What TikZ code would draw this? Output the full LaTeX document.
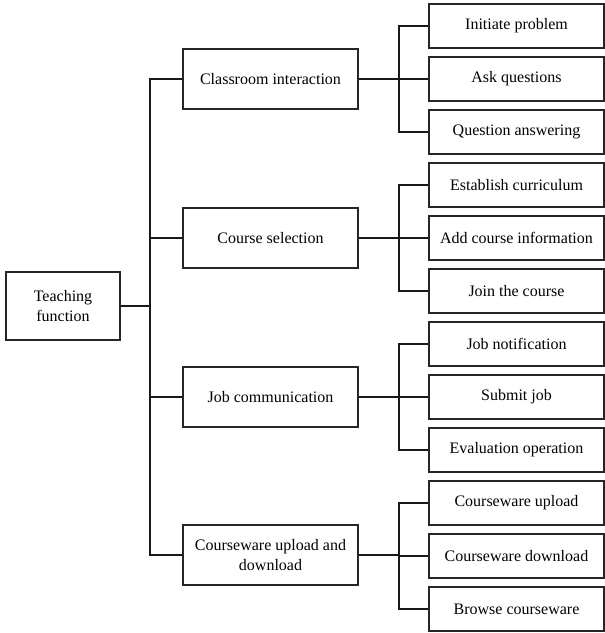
\documentclass[tikz,border=0pt]{standalone}
\usepackage{fontspec}
\setmainfont{Liberation Serif}
\begin{document}
\begin{tikzpicture}[x=1pt,y=1pt,
  every node/.style={font=\fontsize{16}{19.5}\selectfont},
  box/.style={draw=black!85,line width=1.2pt,rectangle,inner sep=0pt,align=center},
  rootbox/.style={box,minimum width=114pt,minimum height=68pt},
  midbox/.style={box,minimum width=175pt,minimum height=60pt},
  leafbox/.style={box,minimum width=175pt,minimum height=44pt},
  link/.style={draw=black!90,line width=1.2pt}]
\useasboundingbox (0,0) rectangle (605,-633);

% root
\node[rootbox] (root) at (63,-306) {Teaching\\function};

% second level
\node[midbox] (m1) at (270.5,-79) {Classroom interaction};
\node[midbox] (m2) at (270.5,-238) {Course selection};
\node[midbox] (m3) at (270.5,-397) {Job communication};
\node[midbox] (m4) at (270.5,-555) {Courseware upload and\\download};

% leaves
\node[leafbox] (l1)  at (516.5,-26)  {Initiate problem};
\node[leafbox] (l2)  at (516.5,-79)  {Ask questions};
\node[leafbox] (l3)  at (516.5,-132) {Question answering};
\node[leafbox] (l4)  at (516.5,-185) {Establish curriculum};
\node[leafbox] (l5)  at (516.5,-238) {Add course information};
\node[leafbox] (l6)  at (516.5,-291) {Join the course};
\node[leafbox] (l7)  at (516.5,-344) {Job notification};
\node[leafbox] (l8)  at (516.5,-397) {Submit job};
\node[leafbox] (l9)  at (516.5,-450) {Evaluation operation};
\node[leafbox] (l10) at (516.5,-503) {Courseware upload};
\node[leafbox] (l11) at (516.5,-556) {Courseware download};
\node[leafbox] (l12) at (516.5,-609) {Browse courseware};

% trunk from the root to the second level
\coordinate (t) at (150,-306);
\draw[link] (root.east) -- (t);
\foreach \m in {m1,m2,m3,m4} \draw[link] (t) |- (\m.west);

% branches from the second level to the leaves
\coordinate (b1) at (399,-79);
\coordinate (b2) at (399,-238);
\coordinate (b3) at (399,-397);
\coordinate (b4) at (399,-555);
\draw[link] (m1.east) -- (b1);
\draw[link] (m2.east) -- (b2);
\draw[link] (m3.east) -- (b3);
\draw[link] (m4.east) -- (b4);
\foreach \l in {l1,l2,l3} \draw[link] (b1) |- (\l.west);
\foreach \l in {l4,l5,l6} \draw[link] (b2) |- (\l.west);
\foreach \l in {l7,l8,l9} \draw[link] (b3) |- (\l.west);
\foreach \l in {l10,l11,l12} \draw[link] (b4) |- (\l.west);
\end{tikzpicture}
\end{document}
